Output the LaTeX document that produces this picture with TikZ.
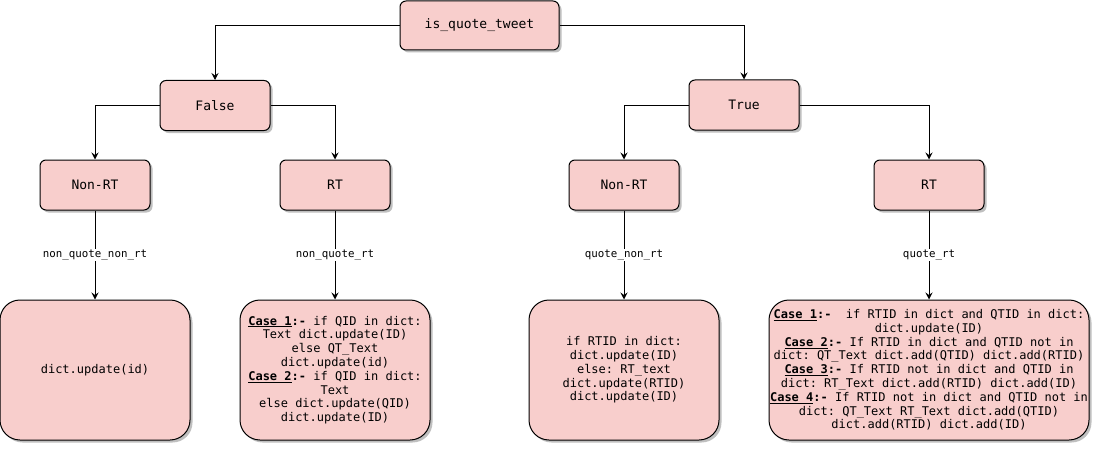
\documentclass[tikz,border=0pt]{standalone}
\usepackage{fontspec}
\setmonofont{DejaVu Sans Mono}
\usetikzlibrary{arrows.meta,shadows}
\definecolor{boxfill}{HTML}{F8CECC}
\newcommand{\cs}[1]{\textbf{\underline{Case #1}:-}}
\begin{document}
\begin{tikzpicture}[x=1pt,y=-1pt,
  box/.style={draw=black, fill=boxfill, rounded corners=6pt, line width=1pt,
    minimum width=110pt, minimum height=50pt, inner sep=0pt,
    font=\ttfamily\fontsize{13}{15}\selectfont,
    drop shadow={shadow xshift=2.5pt, shadow yshift=-2.5pt, opacity=0.25, fill=black}},
  big/.style={box, rounded corners=20pt, minimum width=190pt, minimum height=140pt,
    align=center, font=\ttfamily\fontsize{12}{13.8}\selectfont},
  arr/.style={-{Stealth[length=7pt,width=7pt,inset=2.5pt]}, line width=1pt, draw=black},
  lbl/.style={fill=white, inner sep=1pt, font=\ttfamily\fontsize{10.8}{12}\selectfont}
]
\useasboundingbox (0,0) rectangle (1101,452);

\node[box, minimum width=159pt, minimum height=49pt] (top) at (479.5,25.5) {is\_quote\_tweet};
\node[box] (f) at (215,105.5) {False};
\node[box] (t) at (744,105) {True};
\node[box] (nrt1) at (95,185) {Non-RT};
\node[box] (rt1) at (335,185) {RT};
\node[box] (nrt2) at (624,185) {Non-RT};
\node[box] (rt2) at (929,185) {RT};

\node[big] (d1) at (95,370) {dict.update(id)};
\node[big] (d2) at (335,370) {\cs{1} if QID in dict:\\Text dict.update(ID)\\else QT\_Text\\dict.update(id)\\\cs{2} if QID in dict:\\Text\\else dict.update(QID)\\dict.update(ID)};
\node[big] (d3) at (624,370) {if RTID in dict:\\dict.update(ID)\\else: RT\_text\\dict.update(RTID)\\dict.update(ID)};
\node[big, minimum width=320pt] (d4) at (929,370) {\cs{1}~ if RTID in dict and QTID in dict:\\dict.update(ID)\\\cs{2} If RTID in dict and QTID not in\\dict: QT\_Text dict.add(QTID) dict.add(RTID)\\\cs{3} If RTID not in dict and QTID in\\dict: RT\_Text dict.add(RTID) dict.add(ID)\\\cs{4} If RTID not in dict and QTID not in\\dict: QT\_Text RT\_Text dict.add(QTID)\\dict.add(RTID) dict.add(ID)};

\draw[arr] (top.west) -| (f.north);
\draw[arr] (top.east) -| (t.north);
\draw[arr] (f.west) -| (nrt1.north);
\draw[arr] (f.east) -| (rt1.north);
\draw[arr] (t.west) -| (nrt2.north);
\draw[arr] (t.east) -| (rt2.north);

\draw[arr] (nrt1) -- node[lbl] {non\_quote\_non\_rt} (d1);
\draw[arr] (rt1) -- node[lbl] {non\_quote\_rt} (d2);
\draw[arr] (nrt2) -- node[lbl] {quote\_non\_rt} (d3);
\draw[arr] (rt2) -- node[lbl] {quote\_rt} (d4);
\end{tikzpicture}
\end{document}
